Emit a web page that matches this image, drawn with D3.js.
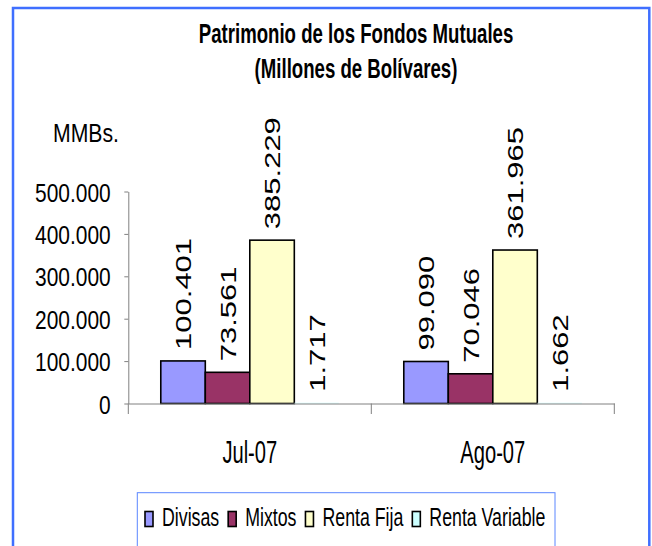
<!DOCTYPE html>
<html>
<head>
<meta charset="utf-8">
<script src="https://cdn.jsdelivr.net/npm/d3@7"></script>
<style>
  body { margin: 0; background: #fff; }
  text { font-family: "Liberation Sans", Arial, sans-serif; fill: #000; }
</style>
</head>
<body>
<div id="chart"></div>
<script>
// data
const months = ["Jul-07", "Ago-07"];
const series = ["Divisas", "Mixtos", "Renta Fija", "Renta Variable"];
const divisas = [100401, 99090];
const mixtos = [73561, 70046];
const rentaFija = [385229, 361965];
const rentaVariable = [1717, 1662];
const yTicks = [0, 100000, 200000, 300000, 400000, 500000];
const colors = ["#9999FF", "#993366", "#FFFFCC", "#CCFFFF"];

const values = [divisas, mixtos, rentaFija, rentaVariable];
const rows = [];
months.forEach((m, i) => {
    series.forEach((s, j) => rows.push({ month: m, serie: s, value: values[j][i] }));
});

const width = 652, height = 546;
const plot = { left: 128.3, right: 614.3, top: 191.5, bottom: 403.5 };

// thousands with a dot, like the original
const fmt = d3.formatLocale({ decimal: ",", thousands: ".", grouping: [3], currency: ["", ""] }).format(",d");

let svg = d3.select("#chart").append("svg")
    .attr("width", width)
    .attr("height", height);

// outer frame
svg.append("rect")
    .attr("x", 13).attr("y", 8)
    .attr("width", 636.3).attr("height", 560)
    .attr("fill", "#fff")
    .attr("stroke", "#3F6FFF")
    .attr("stroke-width", 2.5);

// title
const title = svg.append("g").attr("font-weight", "bold");
[["Patrimonio de los Fondos Mutuales", 43], ["(Millones de Bolívares)", 78]].forEach(([t, y]) => {
    title.append("text")
        .attr("transform", `translate(356,${y}) scale(0.69,1)`)
        .attr("text-anchor", "middle")
        .style("font-size", "27px")
        .text(t);
});

// scales
let x0 = d3.scaleBand()
    .domain(months)
    .range([plot.left, plot.right]);
let x1 = d3.scaleBand()
    .domain(series)
    .range([0, x0.bandwidth()])
    .paddingInner(0)
    .paddingOuter(0.73);
let y = d3.scaleLinear()
    .domain([0, 500000])
    .range([plot.bottom, plot.top]);
let color = d3.scaleOrdinal().domain(series).range(colors);

// y axis
const tickSx = 0.79;
let yAxis = svg.append("g")
    .attr("transform", "translate(" + plot.left + ",0)")
    .call(d3.axisLeft(y).tickValues(yTicks).tickFormat(fmt).tickSize(4).tickSizeOuter(0));
yAxis.select(".domain").attr("stroke", "#808080");
yAxis.selectAll(".tick line").attr("stroke", "#808080");
yAxis.selectAll(".tick text")
    .attr("x", -17.6 / tickSx)
    .attr("dy", "0.36em")
    .attr("transform", `scale(${tickSx},1)`)
    .style("font-size", "26.5px");

svg.append("text")
    .attr("transform", `translate(53,142) scale(0.8,1)`)
    .style("font-size", "26.5px")
    .text("MMBs.");

// bars (a bar under one pixel high does not show in the original)
let bars = svg.append("g").selectAll("rect")
    .data(rows)
    .enter().append("rect")
    .attr("x", d => x0(d.month) + x1(d.serie))
    .attr("width", x1.bandwidth())
    .attr("y", d => y(d.value))
    .attr("height", d => y(0) - y(d.value))
    .attr("fill", d => color(d.serie))
    .attr("stroke", d => (y(0) - y(d.value) < 1 ? "none" : "#000"))
    .attr("stroke-width", 1.6);

// x axis
let xAxis = svg.append("g")
    .attr("transform", "translate(0," + plot.bottom + ")")
    .call(d3.axisBottom(x0).tickSize(0).tickSizeOuter(0));
xAxis.select(".domain").attr("stroke", "#808080");
xAxis.selectAll(".tick text")
    .attr("y", 59.5)
    .attr("dy", null)
    .attr("transform", "scale(0.65,1)")
    .style("font-size", "31px");

// ticks between the categories
const bounds = months.map(m => x0(m)).concat([x0.range()[1]]);
xAxis.selectAll(".bound")
    .data(bounds)
    .enter().append("line")
    .attr("class", "bound")
    .attr("x1", d => d).attr("x2", d => d)
    .attr("y1", 0).attr("y2", 10.5)
    .attr("stroke", "#808080");

// value labels, turned upright
svg.append("g").selectAll("text")
    .data(rows)
    .enter().append("text")
    .attr("transform", d => {
        const cx = x0(d.month) + x1(d.serie) + x1.bandwidth() / 2;
        return `translate(${cx},${y(d.value) - 11}) scale(0.72,1) rotate(-90)`;
    })
    .attr("dy", "0.36em")
    .style("font-size", "31px")
    .text(d => fmt(d.value));

// legend
let legend = svg.append("g");
legend.append("rect")
    .attr("x", 137.3).attr("y", 492.7)
    .attr("width", 417.7).attr("height", 80)
    .attr("fill", "#fff")
    .attr("stroke", "#5A86FF")
    .attr("stroke-width", 1);

const legSx = 0.71;
let lx = 145;
series.forEach(s => {
    legend.append("rect")
        .attr("x", lx).attr("y", 511.5)
        .attr("width", 8).attr("height", 15)
        .attr("fill", color(s))
        .attr("stroke", "#000")
        .attr("stroke-width", 1.6);
    let t = legend.append("text")
        .attr("transform", `translate(${lx + 17},526) scale(${legSx},1)`)
        .style("font-size", "25px")
        .text(s);
    lx += 17 + t.node().getComputedTextLength() * legSx + 9;
});
</script>
</body>
</html>
